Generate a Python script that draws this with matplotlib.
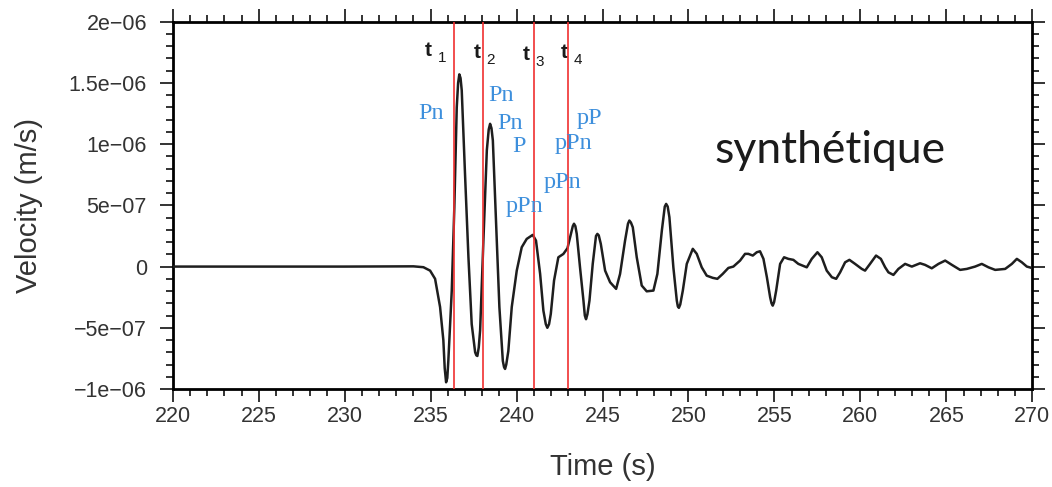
import numpy as np
import matplotlib
matplotlib.use("Agg")
import matplotlib.pyplot as plt
from matplotlib.ticker import MultipleLocator, FixedLocator, FixedFormatter
from matplotlib.transforms import offset_copy

# waveform: time (s) and velocity (x 1e-7 m/s)
time_s = [
    220.0, 230.0, 234.0, 234.58, 234.97, 235.26, 235.55, 235.74, 235.82, 235.90,
    235.97, 236.03, 236.23, 236.38, 236.52, 236.60, 236.67, 236.74, 236.81, 237.00,
    237.20, 237.39, 237.59, 237.66, 237.72, 237.80, 237.88, 238.07, 238.27, 238.38,
    238.46, 238.54, 238.62, 238.81, 239.00, 239.20, 239.27, 239.33, 239.40, 239.52,
    239.72, 240.01, 240.30, 240.59, 240.94, 241.13, 241.37, 241.56, 241.70, 241.79,
    241.89, 241.99, 242.18, 242.43, 242.72, 242.96, 243.11, 243.27, 243.34, 243.42,
    243.50, 243.69, 243.89, 243.97, 244.04, 244.12, 244.24, 244.43, 244.62, 244.70,
    244.78, 244.90, 245.15, 245.44, 245.79, 246.02, 246.31, 246.48, 246.56, 246.65,
    246.76, 246.99, 247.28, 247.57, 247.96, 248.19, 248.45, 248.62, 248.70, 248.79,
    248.89, 249.12, 249.32, 249.38, 249.44, 249.52, 249.67, 249.90, 250.25, 250.48,
    250.77, 251.06, 251.41, 251.68, 251.99, 252.32, 252.61, 253.00, 253.29, 253.48,
    253.74, 253.97, 254.16, 254.36, 254.56, 254.75, 254.83, 254.90, 254.98, 255.10,
    255.33, 255.56, 255.81, 256.10, 256.39, 256.88, 257.17, 257.50, 257.75, 258.04,
    258.34, 258.59, 258.82, 259.11, 259.36, 259.69, 260.08, 260.27, 260.56, 260.91,
    261.19, 261.44, 261.63, 261.92, 262.21, 262.60, 262.99, 263.47, 263.76, 264.15,
    264.54, 264.93, 265.32, 265.80, 266.19, 266.67, 267.06, 267.45, 267.84, 268.42,
    268.81, 269.10, 269.39, 269.68, 269.97,
]
vel_e7 = [
    0.0, 0.0, 0.02, -0.05, -0.33, -1.0, -3.3, -6.0, -8.3, -9.45,
    -9.1, -7.7, -1.96, 4.85, 13.0, 15.0, 15.7, 15.4, 14.4, 7.6,
    0.76, -4.7, -7.0, -7.25, -7.3, -6.6, -5.2, 2.1, 9.5, 11.2,
    11.66, 11.3, 10.3, 3.5, -3.3, -7.7, -8.2, -8.36, -8.0, -6.9,
    -3.3, -0.33, 1.58, 2.26, 2.59, 2.12, -0.6, -3.6, -4.7, -5.0,
    -4.7, -3.87, -1.14, 0.76, 1.03, 1.5, 2.39, 3.3, 3.5, 3.3,
    2.67, -0.06, -2.78, -4.0, -4.3, -3.9, -2.78, 0.22, 2.5, 2.67,
    2.55, 1.85, -0.33, -1.28, -1.82, -0.6, 2.12, 3.5, 3.76, 3.6,
    3.21, 0.76, -1.55, -2.02, -1.96, -0.6, 2.94, 4.9, 5.12, 4.9,
    4.03, -0.06, -2.78, -3.25, -3.37, -3.1, -1.96, 0.22, 1.45, 1.04,
    -0.06, -0.74, -0.92, -1.0, -0.6, -0.11, 0.0, 0.49, 1.04, 1.04,
    0.9, 1.17, 1.25, 0.63, -0.87, -2.51, -3.0, -3.19, -2.9, -1.96,
    0.22, 0.76, 0.63, 0.55, 0.22, -0.06, 0.63, 1.17, 0.76, -0.33,
    -0.87, -1.0, -0.47, 0.35, 0.55, 0.22, -0.19, -0.33, 0.22, 0.9,
    0.63, -0.06, -0.47, -0.68, -0.19, 0.22, 0.0, 0.27, 0.14, -0.14,
    0.22, 0.49, 0.14, -0.27, -0.19, 0.0, 0.22, -0.06, -0.27, -0.19,
    0.22, 0.63, 0.35, 0.0, -0.11,
]

# picked times (red lines) and their labels
pick_times = [236.38, 238.07, 241.02, 242.98]
pick_names = ["1", "2", "3", "4"]
pick_label_t = [234.88, 237.73, 240.58, 242.79]
pick_label_v = [17.65, 17.52, 17.32, 17.52]

# phase names (blue)
phases = ["Pn", "Pn", "Pn", "P", "pPn", "pPn", "pPn", "pP"]
phase_t = [235.01, 239.09, 239.61, 240.16, 240.49, 242.68, 243.30, 244.25]
phase_v = [12.07, 13.56, 11.25, 9.34, 4.44, 6.45, 9.64, 11.68]

ytick_vals = [-1e-6, -5e-7, 0, 5e-7, 1e-6, 1.5e-6, 2e-6]
ytick_text = ["\u22121e\u221206", "\u22125e\u221207", "0", "5e\u221207",
              "1e\u221206", "1.5e\u221206", "2e\u221206"]

plt.rcParams["font.family"] = ["Liberation Sans", "DejaVu Sans"]

fig = plt.figure(figsize=(10.52, 4.87), dpi=100)
ax = fig.add_axes([0.1642, 0.2012, 0.8171, 0.7542])

t = np.array(time_s)
v = np.array(vel_e7) * 1e-7
ax.plot(t, v, color="#1e1e1e", lw=1.8, solid_joinstyle="round", zorder=3)

for x in pick_times:
    ax.axvline(x, color="#f03030", lw=1.2, zorder=4)

for name, x, y in zip(pick_names, pick_label_t, pick_label_v):
    ax.text(x, y * 1e-7, "t", fontsize=15, fontweight="bold", color="#1a1a1a",
            ha="center", va="center")
    tr = offset_copy(ax.transData, fig=fig, x=9.5, y=-5.5, units="points")
    ax.text(x, y * 1e-7, name, fontsize=11, color="#1a1a1a", ha="center",
            va="center", transform=tr)

for name, x, y in zip(phases, phase_t, phase_v):
    ax.text(x, y * 1e-7, name, fontsize=17.5, color="#3d8fdc",
            family="Liberation Serif", ha="center", va="baseline", zorder=5)

ax.text(258.26, 9.48e-7, "synth\u00e9tique", fontsize=32, color="#1b1b1b",
        family="Lato", ha="center", va="center")

ax.set_xlim(220, 270)
ax.set_ylim(-1e-6, 2e-6)
ax.xaxis.set_major_locator(MultipleLocator(5))
ax.xaxis.set_minor_locator(MultipleLocator(1))
ax.yaxis.set_major_locator(FixedLocator(ytick_vals))
ax.yaxis.set_major_formatter(FixedFormatter(ytick_text))
ax.yaxis.set_minor_locator(MultipleLocator(1e-7))

for s in ax.spines.values():
    s.set_linewidth(2.0)
ax.tick_params(which="both", direction="out", top=True, right=True,
               labeltop=False, labelright=False, width=1.2, color="#111111")
ax.tick_params(which="major", length=9.5)
ax.tick_params(which="minor", length=5)
ax.tick_params(axis="x", which="major", labelsize=15.5, pad=2.5, labelcolor="#333333")
ax.tick_params(axis="y", which="major", labelsize=15.5, pad=9, labelcolor="#333333")

ax.set_xlabel("Time (s)", fontsize=21, color="#333333")
ax.xaxis.set_label_coords(0.5, -0.212)
ax.xaxis.label.set_va("center")
ax.set_ylabel("Velocity (m/s)", fontsize=21, color="#333333")
ax.yaxis.set_label_coords(-0.167, 0.5)
ax.yaxis.label.set_va("center")

fig.savefig("out.png", dpi=100)
